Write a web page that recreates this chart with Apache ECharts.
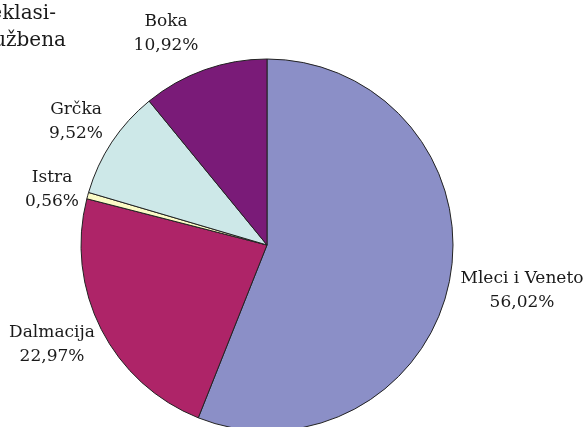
<!DOCTYPE html>
<html>
<head>
<meta charset="utf-8">
<script src="https://cdn.jsdelivr.net/npm/echarts@6/dist/echarts.min.js"></script>
<style>
  html, body { margin: 0; padding: 0; background: #fff; }
  #chart { width: 587px; height: 427px; }
</style>
</head>
<body>
<div id="chart"></div>
<script>
// regions and their share (%)
const regions = ['Mleci i Veneto', 'Dalmacija', 'Istra', 'Grčka', 'Boka']
const shares = [56.02, 22.97, 0.56, 9.52, 10.92]
const colors = ['#8b8fc7', '#ae2468', '#fbfbc6', '#cde8e8', '#7a1b78']

// where each label sits (text centre)
const labelPos = [[522, 291], [52, 345], [52, 190], [76, 122], [166, 34]]

const fontFamily = '"DejaVu Serif", "Liberation Serif", serif'

const chart = echarts.init(document.getElementById('chart'))
chart.setOption({
    animation: false,
    graphic: [
        { type: 'text', right: 531, top: 4, style: { text: 'Neklasi-', font: '20px ' + fontFamily, fill: '#1a1a1a', textAlign: 'right' } },
        { type: 'text', right: 521, top: 31, style: { text: 'Službena', font: '20px ' + fontFamily, fill: '#1a1a1a', textAlign: 'right' } }
    ],
    series: [{
        type: 'pie',
        center: [267, 245],
        radius: 186,
        startAngle: 90,
        clockwise: true,
        avoidLabelOverlap: false,
        itemStyle: { borderColor: '#222', borderWidth: 1 },
        label: {
            show: true,
            position: 'outside',
            formatter: p => p.name + '\n' + p.value.toFixed(2).replace('.', ',') + '%',
            fontFamily: fontFamily,
            fontSize: 17,
            lineHeight: 24,
            color: '#1a1a1a',
            align: 'center'
        },
        labelLine: { show: false },
        labelLayout: p => ({
            x: labelPos[p.dataIndex][0],
            y: labelPos[p.dataIndex][1],
            align: 'center',
            verticalAlign: 'middle'
        }),
        emphasis: { disabled: true },
        data: regions.map((name, i) => ({ name, value: shares[i], itemStyle: { color: colors[i] } }))
    }]
})
</script>
</body>
</html>
